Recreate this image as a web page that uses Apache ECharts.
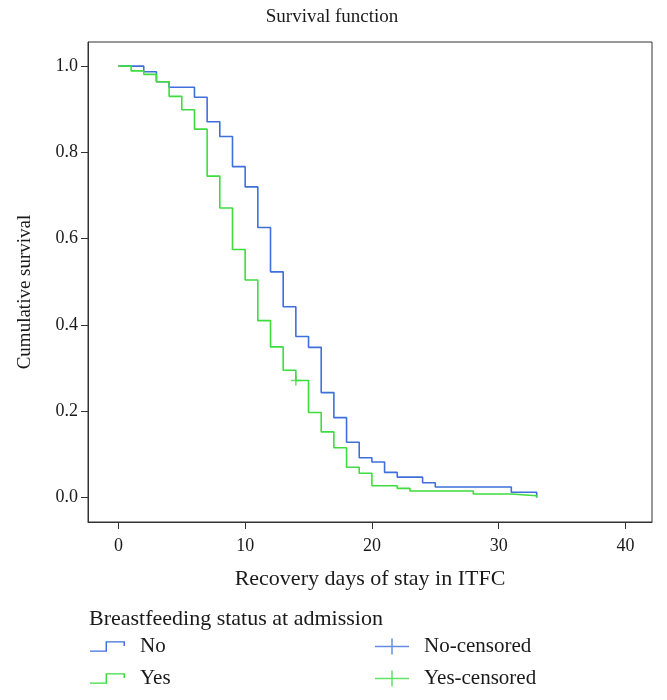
<!DOCTYPE html>
<html>
<head>
<meta charset="utf-8">
<script src="https://cdn.jsdelivr.net/npm/echarts@6/dist/echarts.min.js"></script>
<style>html,body{margin:0;padding:0;background:#fff}#chart{width:667px;height:700px}</style>
</head>
<body>
<div id="chart"></div>
<script>
// Kaplan-Meier estimates
var noDays =  [0, 2, 3, 4, 6, 7, 8, 9, 10, 11, 12, 13, 14, 15, 16, 17, 18, 19, 20, 21, 22, 24, 25, 31, 33, 33];
var noSurv =  [1.0, 0.987, 0.964, 0.951, 0.928, 0.871, 0.837, 0.767, 0.720, 0.626, 0.523, 0.442, 0.373, 0.348, 0.243, 0.185, 0.128, 0.092, 0.082, 0.058, 0.047, 0.034, 0.024, 0.012, 0.012, 0.0];
var yesDays = [0, 1, 2, 3, 4, 5, 6, 7, 8, 9, 10, 11, 12, 13, 14, 15, 16, 17, 18, 19, 20, 22, 23, 28, 31, 33, 33];
var yesSurv = [1.0, 0.989, 0.981, 0.964, 0.930, 0.899, 0.854, 0.745, 0.671, 0.575, 0.504, 0.410, 0.349, 0.295, 0.271, 0.197, 0.152, 0.115, 0.070, 0.056, 0.027, 0.021, 0.015, 0.008, 0.004, 0.004, 0.0];
var noCensDays = [];
var noCensSurv = [];
var yesCensDays = [14];
var yesCensSurv = [0.271];
var xTicks = [0, 10, 20, 30, 40];
var yTicks = [0, 0.2, 0.4, 0.6, 0.8, 1.0];

function pairs(a, b) { return a.map(function (v, i) { return [v, b[i]]; }); }

var BLUE = '#3f6fdc';
var GREEN = '#3edc3e';
var FONT = 'Liberation Serif';
var TXT = '#1a1a1a';
var stepIcon = 'path://M0,9.5 H16 V0 H36 V5 H34.5 V1.5 H17.5 V11 H0 Z';
var plusIcon = 'path://M0,7.25 H16.25 V0 H17.75 V7.25 H34 V8.75 H17.75 V16 H16.25 V8.75 H0 Z';
var plusMark = 'path://M0,4.25 H4.25 V0 H5.75 V4.25 H10 V5.75 H5.75 V10 H4.25 V5.75 H0 Z';

var chart = echarts.init(document.getElementById('chart'), null, {renderer: 'canvas'});
chart.setOption({
  animation: false,
  backgroundColor: '#fff',
  title: [
    {text: 'Survival function', left: 332, top: 8, textAlign: 'center', padding: 0,
     textStyle: {fontFamily: FONT, fontSize: 19, fontWeight: 'normal', color: TXT}},
    {text: 'Breastfeeding status at admission', left: 89, top: 608, padding: 0,
     textStyle: {fontFamily: FONT, fontSize: 22, fontWeight: 'normal', color: TXT}}
  ],
  graphic: [
    {type: 'text', x: 25, y: 292, rotation: Math.PI / 2,
     style: {text: 'Cumulative survival', fontFamily: FONT, fontSize: 19, fill: TXT,
             textAlign: 'center', textVerticalAlign: 'middle'}}
  ],
  grid: {left: 88, top: 42, right: 15, bottom: 178, show: true, borderColor: '#333', borderWidth: 1, backgroundColor: '#fff'},
  xAxis: {
    type: 'value', min: -2.4, max: 42.1,
    name: 'Recovery days of stay in ITFC', nameLocation: 'middle', nameGap: 46,
    nameTextStyle: {fontFamily: FONT, fontSize: 22, color: TXT},
    axisLine: {onZero: false, lineStyle: {color: '#333'}},
    axisTick: {show: true, length: 7, customValues: xTicks, lineStyle: {color: '#333'}},
    axisLabel: {customValues: xTicks, fontFamily: FONT, fontSize: 18, color: TXT, margin: 15},
    splitLine: {show: false}
  },
  yAxis: {
    type: 'value', min: -0.057, max: 1.056,
    axisLine: {show: true, onZero: false, lineStyle: {color: '#333'}},
    axisTick: {show: true, length: 7, customValues: yTicks, lineStyle: {color: '#333'}},
    axisLabel: {customValues: yTicks, fontFamily: FONT, fontSize: 18, color: TXT, margin: 10,
                formatter: function (v) { return v.toFixed(1); }},
    splitLine: {show: false}
  },
  legend: [
    {left: 90, top: 636, height: 64, padding: 0, orient: 'vertical', itemGap: 11, itemWidth: 35, itemHeight: 11,
     data: [{name: 'No', icon: stepIcon}, {name: 'Yes', icon: stepIcon}],
     itemStyle: {borderWidth: 0},
     textStyle: {fontFamily: FONT, fontSize: 21, color: TXT, padding: [0, 0, 0, 10]}},
    {left: 375, top: 636, height: 64, padding: 0, orient: 'vertical', itemGap: 11, itemWidth: 34, itemHeight: 16,
     data: [{name: 'No-censored', icon: plusIcon}, {name: 'Yes-censored', icon: plusIcon}],
     itemStyle: {borderWidth: 0},
     textStyle: {fontFamily: FONT, fontSize: 21, color: TXT, padding: [0, 0, 0, 10]}}
  ],
  series: [
    {name: 'No', type: 'line', step: 'end', data: pairs(noDays, noSurv), showSymbol: false, symbol: 'none',
     color: BLUE, lineStyle: {color: BLUE, width: 1.6}, z: 2},
    {name: 'Yes', type: 'line', step: 'end', data: pairs(yesDays, yesSurv), showSymbol: false, symbol: 'none',
     color: GREEN, lineStyle: {color: GREEN, width: 1.6}, z: 3},
    {name: 'No-censored', type: 'scatter', data: pairs(noCensDays, noCensSurv), symbol: plusMark, symbolSize: 10,
     color: BLUE, itemStyle: {color: BLUE}, z: 4},
    {name: 'Yes-censored', type: 'scatter', data: pairs(yesCensDays, yesCensSurv), symbol: plusMark, symbolSize: 10,
     color: GREEN, itemStyle: {color: GREEN}, z: 4}
  ]
});
</script>
</body>
</html>
